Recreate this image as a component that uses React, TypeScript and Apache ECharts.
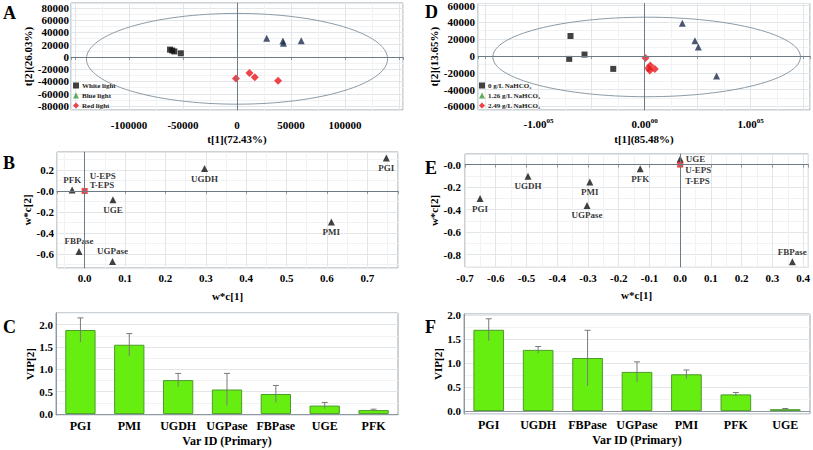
import React, { useEffect, useRef } from 'react';
import * as echarts from 'echarts';

const FONT = '"Liberation Serif", "Times New Roman", Times, serif';

// ---------- Panel A : score plot (light quality)
const aNames = ['White light', 'Blue light', 'Red light'];
const aWhite = [[-62000, 12000], [-60000, 10500], [-58000, 9000], [-52000, 6000]];
const aBlue = [[27500, 30500], [42500, 26000], [43000, 22500], [59500, 26500]];
const aRed = [[-1000, -35000], [11500, -26000], [16500, -33000], [38000, -39000]];
const aEllipse = [0, -3000, 139400, 74000]; // cx, cy, rx, ry (data units)

// ---------- Panel D : score plot (NaHCO3)
const dNames = ['0 g/L NaHCO₃', '1.26 g/L NaHCO₃', '2.49 g/L NaHCO₃'];
const d0 = [[-69800, 23700], [-56600, 1650], [-71000, -3500], [-29500, -15400]];
const d126 = [[35600, 39000], [47500, 18200], [50700, 10700], [67900, -24000]];
const d249 = [[900, -2300], [5400, -11400], [5000, -17300], [9700, -15400], [3500, -14500]];
const dEllipse = [2000, -1200, 145000, 47300];

// ---------- Panel B : loadings
const bNames = ['PFK', 'UGE', 'UGDH', 'PGI', 'PMI', 'FBPase', 'UGPase'];
const bX = [-0.031, 0.07, 0.297, 0.747, 0.611, -0.014, 0.069];
const bY = [0.01, -0.083, 0.213, 0.314, -0.295, -0.575, -0.67];
const bEps = [0, 0];

// ---------- Panel E : loadings
const eNames = ['UGE', 'PFK', 'UGDH', 'PMI', 'PGI', 'UGPase', 'FBPase'];
const eX = [0, -0.13, -0.495, -0.294, -0.651, -0.303, 0.365];
const eY = [0.05, -0.038, -0.103, -0.154, -0.301, -0.363, -0.862];
const eEps = [0, 0];
const epsLabel = 'U-EPS\nT-EPS';

// ---------- Panel C : VIP
const cCats = ['PGI', 'PMI', 'UGDH', 'UGPase', 'FBPase', 'UGE', 'PFK'];
const cVip = [1.88, 1.55, 0.76, 0.55, 0.45, 0.19, 0.09];
const cErr = [0.27, 0.25, 0.15, 0.36, 0.19, 0.07, 0.02];

// ---------- Panel F : VIP
const fCats = ['PGI', 'UGDH', 'FBPase', 'UGPase', 'PMI', 'PFK', 'UGE'];
const fVip = [1.7, 1.28, 1.11, 0.82, 0.77, 0.35, 0.04];
const fErr = [0.23, 0.07, 0.58, 0.21, 0.09, 0.04, 0.015];

// label placement (style, not data)
const bLabelPos: Record<string, string> = {
  PFK: 'top', UGE: 'bottom', UGDH: 'bottom', PGI: 'bottom', PMI: 'bottom', FBPase: 'top', UGPase: 'top',
};
const eLabelPos: Record<string, string> = {
  UGE: 'right', PFK: 'bottom', UGDH: 'bottom', PMI: 'bottom', PGI: 'bottom', UGPase: 'bottom', FBPase: 'top',
};

const axisLineStyle = { color: '#8e98a0', width: 1 };
const splitLineStyle = { color: '#e3e6e9', width: 1 };
const minorSplitStyle = { color: '#f0f2f3', width: 1 };
const crossColor = '#6e7b85';

const isMult = (v: number, step: number) => Math.abs(v / step - Math.round(v / step)) < 1e-6;

function valAxis(o: any) {
  return {
    type: 'value',
    gridIndex: o.grid,
    min: o.min,
    max: o.max,
    splitNumber: o.split,
    name: o.name,
    nameLocation: 'middle',
    nameGap: o.nameGap,
    nameTextStyle: { fontFamily: FONT, fontWeight: 'bold', fontSize: 11, color: '#000' },
    axisLine: { show: true, lineStyle: axisLineStyle },
    axisTick: { show: !!o.ticks, length: 3, lineStyle: axisLineStyle },
    axisLabel: {
      formatter: o.fmt,
      fontFamily: FONT,
      fontWeight: 'bold',
      fontSize: 11,
      color: '#000',
      margin: o.margin,
      hideOverlap: false,
      rich: o.rich,
    },
    splitLine: { show: true, lineStyle: splitLineStyle },
    minorTick: { show: false, splitNumber: 2 },
    minorSplitLine: { show: true, lineStyle: minorSplitStyle },
  };
}

function catAxis(grid: number, cats: string[]) {
  return {
    type: 'category',
    gridIndex: grid,
    data: cats,
    name: 'Var ID (Primary)',
    nameLocation: 'middle',
    nameGap: 20,
    nameTextStyle: { fontFamily: FONT, fontWeight: 'bold', fontSize: 12, color: '#000' },
    axisLine: { show: true, lineStyle: axisLineStyle },
    axisTick: { show: false },
    axisLabel: { fontFamily: FONT, fontWeight: 'bold', fontSize: 12, color: '#000', margin: 5, interval: 0 },
    splitLine: { show: false },
  };
}

function ellipseSeries(name: string, idx: number, e: number[]) {
  return {
    name,
    type: 'custom',
    xAxisIndex: idx,
    yAxisIndex: idx,
    silent: true,
    z: 1,
    data: [e],
    encode: { x: 0, y: 1 },
    renderItem: (_p: any, api: any) => {
      const c = api.coord([api.value(0), api.value(1)]);
      const s = api.size([api.value(2), api.value(3)]);
      return {
        type: 'ellipse',
        shape: { cx: c[0], cy: c[1], rx: s[0], ry: s[1] },
        style: { fill: 'none', stroke: '#8b9ba6', lineWidth: 1 },
      };
    },
  };
}

function crossLines(name: string, idx: number) {
  return {
    name,
    type: 'scatter',
    xAxisIndex: idx,
    yAxisIndex: idx,
    data: [],
    silent: true,
    z: 1,
    markLine: {
      silent: true,
      symbol: ['none', 'none'],
      label: { show: false },
      lineStyle: { color: crossColor, width: 1, type: 'solid' },
      data: [{ xAxis: 0 }, { yAxis: 0 }],
    },
  };
}

function scoreSeries(name: string, idx: number, data: number[][], symbol: string, size: number, color: string) {
  return {
    name,
    type: 'scatter',
    xAxisIndex: idx,
    yAxisIndex: idx,
    data,
    symbol,
    symbolSize: size,
    itemStyle: { color },
    z: 3,
  };
}

const ptLabel = { fontFamily: FONT, fontWeight: 'bold', fontSize: 9, color: '#000' };

function loadingSeries(name: string, idx: number, names: string[], xs: number[], ys: number[], pos: Record<string, string>) {
  return {
    name,
    type: 'scatter',
    xAxisIndex: idx,
    yAxisIndex: idx,
    symbol: 'triangle',
    symbolSize: 7,
    itemStyle: { color: '#111' },
    z: 3,
    data: names.map((n, i) => ({
      name: n,
      value: [xs[i], ys[i]],
      label: { show: true, position: pos[n], distance: 2, formatter: n, ...ptLabel },
    })),
  };
}

function epsSeries(name: string, idx: number, p: number[], offset: number[], lh: number) {
  return {
    name,
    type: 'scatter',
    xAxisIndex: idx,
    yAxisIndex: idx,
    symbol: 'rect',
    symbolSize: 6,
    itemStyle: { color: '#e8161b' },
    z: 4,
    data: [{ name: epsLabel, value: p }],
    label: {
      show: true,
      position: 'right',
      distance: 2,
      offset,
      align: 'left',
      lineHeight: lh,
      formatter: epsLabel,
      ...ptLabel,
    },
  };
}

function barSeries(name: string, idx: number, vals: number[]) {
  return {
    name,
    type: 'bar',
    xAxisIndex: idx,
    yAxisIndex: idx,
    data: vals,
    barWidth: '62%',
    itemStyle: { color: '#66ee11', borderColor: '#4c9a2a', borderWidth: 1 },
    z: 2,
  };
}

function errSeries(name: string, idx: number, vals: number[], err: number[]) {
  return {
    name,
    type: 'custom',
    xAxisIndex: idx,
    yAxisIndex: idx,
    z: 5,
    silent: true,
    data: vals.map((v, i) => [i, v - err[i], v + err[i]]),
    encode: { x: 0, y: [1, 2] },
    renderItem: (_p: any, api: any) => {
      const top = api.coord([api.value(0), api.value(2)]);
      const bot = api.coord([api.value(0), api.value(1)]);
      const st = { stroke: '#7a7a7a', lineWidth: 1 };
      return {
        type: 'group',
        children: [
          { type: 'line', shape: { x1: top[0], y1: top[1], x2: bot[0], y2: bot[1] }, style: st },
          { type: 'line', shape: { x1: top[0] - 3, y1: top[1], x2: top[0] + 3, y2: top[1] }, style: st },
        ],
      };
    },
  };
}

function panelLetter(t: string, left: number, top: number) {
  return {
    type: 'text',
    left,
    top,
    style: { text: t, font: `bold 18px ${FONT}`, fill: '#000' },
  };
}

const legendCommon = {
  orient: 'vertical',
  itemWidth: 6,
  itemHeight: 6,
  itemGap: 3,
  padding: 0,
  selectedMode: false,
  textStyle: { fontFamily: FONT, fontWeight: 'bold', fontSize: 7, color: '#222', padding: [0, 0, 0, -2] },
};

export default function App() {
  const ref = useRef<HTMLDivElement>(null);
  useEffect(() => {
    if (!ref.current) return;
    const chart = echarts.init(ref.current, undefined, { renderer: 'svg' });

    const fmtA_x = (v: number) => (isMult(v, 50000) && Math.abs(v) <= 100001 ? String(Math.round(v)) : '');
    const fmtA_y = (v: number) => (isMult(v, 20000) && Math.abs(v) <= 80001 ? String(Math.round(v)) : '');
    const fmtD_x = (v: number) => {
      if (!isMult(v, 100000) || Math.abs(v) > 100001) return '';
      const k = Math.round(v / 100000);
      return `{m|${k.toFixed(2)}}{s|${k === 0 ? '00' : '05'}}`;
    };
    const fmtD_y = (v: number) => (isMult(v, 20000) && Math.abs(v) <= 60001 ? String(Math.round(v)) : '');
    const fmtLoadX = (v: number) => (isMult(v, 0.1) ? (Math.abs(v) < 1e-9 ? '0.0' : v.toFixed(1)) : '');
    const fmtLoadY = (v: number) => (isMult(v, 0.2) ? (Math.abs(v) < 1e-9 ? '-0.0' : v.toFixed(1)) : '');
    const fmtVip = (v: number) => (isMult(v, 0.5) && v > -1e-9 ? (Math.abs(v) < 1e-9 ? '0.0' : v.toFixed(1)) : '');

    const option: any = {
      animation: false,
      textStyle: { fontFamily: FONT },
      grid: [
        { left: 71, top: 3, width: 332, height: 107, show: true, borderColor: '#9aa4ac', borderWidth: 1, backgroundColor: '#fff' },
        { left: 478, top: 3, width: 332, height: 107, show: true, borderColor: '#9aa4ac', borderWidth: 1, backgroundColor: '#fff' },
        { left: 57, top: 152, width: 341, height: 116, show: true, borderColor: '#9aa4ac', borderWidth: 1, backgroundColor: '#fff' },
        { left: 465, top: 154, width: 345, height: 113, show: true, borderColor: '#9aa4ac', borderWidth: 1, backgroundColor: '#fff' },
        { left: 56, top: 313, width: 342, height: 102, show: true, borderColor: '#9aa4ac', borderWidth: 1, backgroundColor: '#fff' },
        { left: 464, top: 314, width: 346, height: 100, show: true, borderColor: '#9aa4ac', borderWidth: 1, backgroundColor: '#fff' },
      ],
      xAxis: [
        valAxis({ grid: 0, min: -153700, max: 153700, split: 6, fmt: fmtA_x, margin: 9, name: 't[1](72.43%)', nameGap: 23, ticks: true }),
        valAxis({
          grid: 1, min: -157000, max: 156000, split: 6, fmt: fmtD_x, margin: 7, name: 't[1](85.48%)', nameGap: 23, ticks: true,
          rich: {
            m: { fontFamily: FONT, fontWeight: 'bold', fontSize: 11, lineHeight: 14, color: '#000' },
            s: { fontFamily: FONT, fontWeight: 'bold', fontSize: 7, verticalAlign: 'top', color: '#000' },
          },
        }),
        valAxis({ grid: 2, min: -0.0685, max: 0.776, split: 8, fmt: fmtLoadX, margin: 4, name: 'w*c[1]', nameGap: 22, ticks: true }),
        valAxis({ grid: 3, min: -0.7, max: 0.417, split: 11, fmt: fmtLoadX, margin: 5, name: 'w*c[1]', nameGap: 22, ticks: true }),
        catAxis(4, cCats),
        catAxis(5, fCats),
      ],
      yAxis: [
        valAxis({ grid: 0, min: -86500, max: 88000, split: 8, fmt: fmtA_y, margin: 2, name: 't[2](26.03%)', nameGap: 38 }),
        valAxis({ grid: 1, min: -64300, max: 62400, split: 6, fmt: fmtD_y, margin: 3, name: 't[2](13.65%)', nameGap: 35 }),
        valAxis({ grid: 2, min: -0.733, max: 0.371, split: 5, fmt: fmtLoadY, margin: 3, name: 'w*c[2]', nameGap: 22 }),
        valAxis({ grid: 3, min: -0.909, max: 0.094, split: 5, fmt: fmtLoadY, margin: 4, name: 'w*c[2]', nameGap: 22 }),
        valAxis({ grid: 4, min: -0.02, max: 2.26, split: 5, fmt: fmtVip, margin: 3, name: 'VIP[2]', nameGap: 21 }),
        valAxis({ grid: 5, min: -0.06, max: 2.03, split: 5, fmt: fmtVip, margin: 3, name: 'VIP[2]', nameGap: 19 }),
      ],
      legend: [
        {
          ...legendCommon,
          left: 73,
          top: 82,
          data: [
            { name: aNames[0], icon: 'rect', itemStyle: { color: '#111' } },
            { name: aNames[1], icon: 'triangle', itemStyle: { color: '#3a9a3a' } },
            { name: aNames[2], icon: 'diamond', itemStyle: { color: '#e8161b' } },
          ],
        },
        {
          ...legendCommon,
          left: 479,
          top: 82,
          data: [
            { name: dNames[0], icon: 'rect', itemStyle: { color: '#111' } },
            { name: dNames[1], icon: 'triangle', itemStyle: { color: '#3a9a3a' } },
            { name: dNames[2], icon: 'diamond', itemStyle: { color: '#e8161b' } },
          ],
        },
      ],
      graphic: [
        panelLetter('A', 3, 4),
        panelLetter('B', 3, 154),
        panelLetter('C', 3, 318),
        panelLetter('D', 425, 3),
        panelLetter('E', 425, 159),
        panelLetter('F', 425, 318),
      ],
      series: [
        // A
        crossLines('crossA', 0),
        ellipseSeries('ellA', 0, aEllipse),
        scoreSeries(aNames[0], 0, aWhite, 'rect', 6, '#111'),
        scoreSeries(aNames[1], 0, aBlue, 'triangle', 7, '#1e2d4f'),
        scoreSeries(aNames[2], 0, aRed, 'diamond', 8, '#e8161b'),
        // D
        crossLines('crossD', 1),
        ellipseSeries('ellD', 1, dEllipse),
        scoreSeries(dNames[0], 1, d0, 'rect', 6, '#111'),
        scoreSeries(dNames[1], 1, d126, 'triangle', 7, '#1e2d4f'),
        scoreSeries(dNames[2], 1, d249, 'diamond', 8, '#e8161b'),
        // B
        crossLines('crossB', 2),
        loadingSeries('loadB', 2, bNames, bX, bY, bLabelPos),
        epsSeries('epsB', 2, bEps, [0, -10], 9),
        // E
        crossLines('crossE', 3),
        loadingSeries('loadE', 3, eNames, eX, eY, eLabelPos),
        epsSeries('epsE', 3, eEps, [0, 11], 11),
        // C
        barSeries('vipC', 4, cVip),
        errSeries('errC', 4, cVip, cErr),
        // F
        barSeries('vipF', 5, fVip),
        errSeries('errF', 5, fVip, fErr),
      ],
    };
    chart.setOption(option);
    return () => chart.dispose();
  }, []);

  return (
    <div
      ref={ref}
      style={{ position: 'absolute', left: 0, top: 0, width: 813, height: 450, background: '#fff' }}
    />
  );
}
